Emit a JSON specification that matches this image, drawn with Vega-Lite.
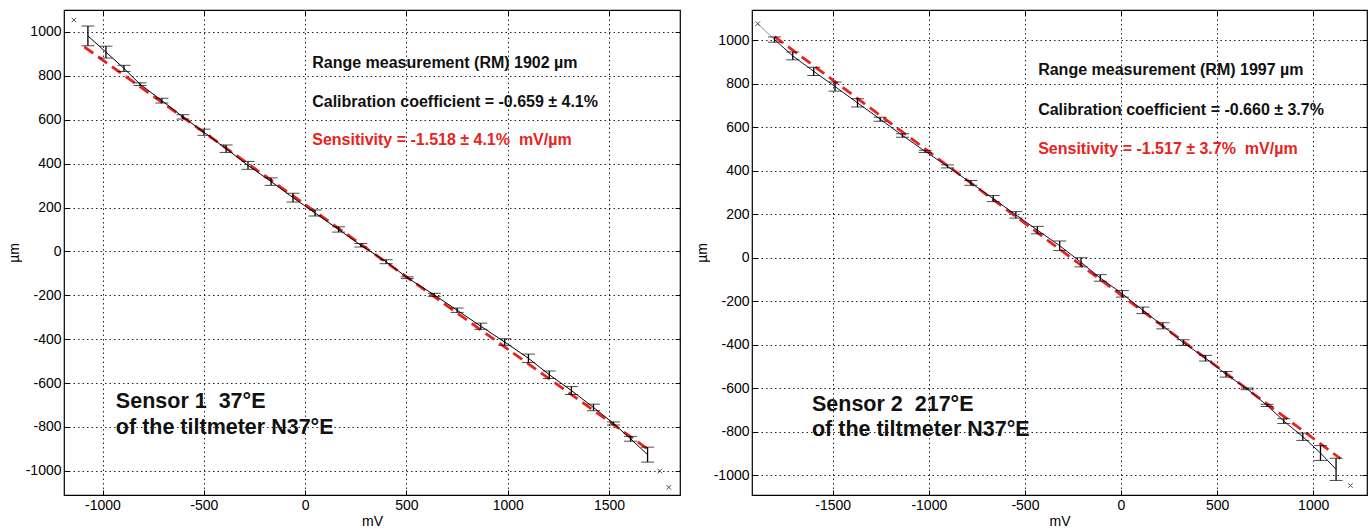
{
  "$schema": "https://vega.github.io/schema/vega-lite/v6.json",
  "background": "white",
  "padding": {"left": 6, "top": 8, "right": 0, "bottom": 0},
  "spacing": 12,
  "config": {
    "font": "Liberation Sans",
    "view": {"stroke": "#000", "strokeWidth": 1.2},
    "axis": {
      "labelFont": "Liberation Sans", "labelFontSize": 14, "labelColor": "#000",
      "titleFont": "Liberation Sans", "titleFontSize": 14, "titleFontWeight": "normal", "titleColor": "#000",
      "domain": false, "tickColor": "#000", "tickSize": -5, "labelPadding": 8, "grid": false,
      "labelExpr": "'' + datum.value"
    }
  },
  "datasets": {
    "s1": [
      {"mV": -1072, "um": 982, "err": 45}, {"mV": -983, "um": 908, "err": 27}, {"mV": -894, "um": 834, "err": 14},
      {"mV": -815, "um": 762, "err": 6}, {"mV": -707, "um": 687, "err": 11}, {"mV": -603, "um": 613, "err": 10},
      {"mV": -499, "um": 543, "err": 14}, {"mV": -390, "um": 468, "err": 17}, {"mV": -282, "um": 392, "err": 18},
      {"mV": -168, "um": 318, "err": 17}, {"mV": -60, "um": 245, "err": 20}, {"mV": 49, "um": 175, "err": 14},
      {"mV": 165, "um": 100, "err": 12}, {"mV": 275, "um": 28, "err": 8}, {"mV": 400, "um": -47, "err": 9},
      {"mV": 504, "um": -120, "err": 4}, {"mV": 637, "um": -198, "err": 7}, {"mV": 750, "um": -268, "err": 10},
      {"mV": 867, "um": -341, "err": 14}, {"mV": 985, "um": -413, "err": 15}, {"mV": 1102, "um": -487, "err": 19},
      {"mV": 1205, "um": -562, "err": 17}, {"mV": 1314, "um": -634, "err": 18}, {"mV": 1423, "um": -711, "err": 15},
      {"mV": 1522, "um": -784, "err": 7}, {"mV": 1606, "um": -854, "err": 11}, {"mV": 1690, "um": -926, "err": 34}
    ],
    "s1fit": [{"mV": -1090, "um": 932}, {"mV": 1690, "um": -900}],
    "s1x": [{"mV": -1141, "um": 1054}, {"mV": 1750, "um": -1001}, {"mV": 1795, "um": -1075}],
    "s1notes": [
      {"mV": 35, "um": 860, "label": "Range measurement (RM) 1902 µm"},
      {"mV": 35, "um": 680, "label": "Calibration coefficient = -0.659 ± 4.1%"}
    ],
    "s1sens": [{"mV": 35, "um": 506, "label": "Sensitivity = -1.518 ± 4.1%\u00a0 mV/µm"}],
    "s1label": [
      {"mV": -934, "um": -684, "label": "Sensor 1\u00a0 37°E"},
      {"mV": -934, "um": -803, "label": "of the tiltmeter N37°E"}
    ],
    "s2": [
      {"mV": -1803, "um": 1004, "err": 12}, {"mV": -1708, "um": 929, "err": 18}, {"mV": -1599, "um": 858, "err": 19},
      {"mV": -1488, "um": 788, "err": 21}, {"mV": -1371, "um": 713, "err": 19}, {"mV": -1253, "um": 638, "err": 9},
      {"mV": -1137, "um": 563, "err": 8}, {"mV": -1019, "um": 490, "err": 5}, {"mV": -903, "um": 421, "err": 7},
      {"mV": -781, "um": 345, "err": 11}, {"mV": -665, "um": 273, "err": 14}, {"mV": -547, "um": 198, "err": 15},
      {"mV": -435, "um": 128, "err": 17}, {"mV": -319, "um": 56, "err": 22}, {"mV": -208, "um": -20, "err": 21},
      {"mV": -108, "um": -92, "err": 15}, {"mV": 7, "um": -165, "err": 15}, {"mV": 114, "um": -241, "err": 15},
      {"mV": 218, "um": -312, "err": 14}, {"mV": 324, "um": -389, "err": 13}, {"mV": 440, "um": -461, "err": 13},
      {"mV": 547, "um": -535, "err": 13}, {"mV": 656, "um": -602, "err": 4}, {"mV": 760, "um": -678, "err": 5},
      {"mV": 847, "um": -750, "err": 11}, {"mV": 946, "um": -822, "err": 17}, {"mV": 1038, "um": -897, "err": 34},
      {"mV": 1119, "um": -972, "err": 51}
    ],
    "s2fit": [{"mV": -1803, "um": 1018}, {"mV": 1142, "um": -923}],
    "s2x": [{"mV": -1890, "um": 1077}, {"mV": 1194, "um": -1046}],
    "s2lead": [{"mV": -1890, "um": 1077}, {"mV": -1803, "um": 1004}],
    "s2notes": [
      {"mV": -431, "um": 862, "label": "Range measurement (RM) 1997 µm"},
      {"mV": -431, "um": 678, "label": "Calibration coefficient = -0.660 ± 3.7%"}
    ],
    "s2sens": [{"mV": -431, "um": 502, "label": "Sensitivity = -1.517 ± 3.7%\u00a0 mV/µm"}],
    "s2label": [
      {"mV": -1608, "um": -674, "label": "Sensor 2\u00a0 217°E"},
      {"mV": -1608, "um": -793, "label": "of the tiltmeter N37°E"}
    ]
  },
  "hconcat": [
    {
      "width": 616, "height": 485,
      "resolve": {"axis": {"x": "independent", "y": "independent"}},
      "layer": [
        {
          "data": {"name": "s1fit"},
          "mark": {"type": "line", "color": "#e8231b", "strokeWidth": 2.8, "strokeDash": [11, 6]},
          "encoding": {
            "x": {"field": "mV", "type": "quantitative", "axis": null},
            "y": {"field": "um", "type": "quantitative", "axis": null}
          }
        },
        {
          "data": {"name": "s1"},
          "mark": {"type": "line", "color": "#000", "strokeWidth": 1},
          "encoding": {
            "x": {"field": "mV", "type": "quantitative", "axis": {"orient": "top", "labels": false, "title": null, "values": [-1000, -500, 0, 500, 1000, 1500]}},
            "y": {"field": "um", "type": "quantitative", "axis": {"orient": "right", "labels": false, "title": null, "values": [-1000, -800, -600, -400, -200, 0, 200, 400, 600, 800, 1000]}}
          }
        },
        {
          "data": {"name": "s1"},
          "mark": {"type": "errorbar", "color": "#000", "ticks": {"size": 13, "color": "#000"}, "rule": {"strokeWidth": 1.3}},
          "encoding": {
            "x": {"field": "mV", "type": "quantitative", "scale": {"domain": [-1190, 1850], "nice": false, "zero": false},
                  "axis": {"title": "mV", "values": [-1000, -500, 0, 500, 1000, 1500], "grid": true, "gridDash": [1.5, 3], "gridColor": "#000", "gridOpacity": 0.85, "titlePadding": 2}},
            "y": {"field": "um", "type": "quantitative", "scale": {"domain": [-1110, 1100], "nice": false, "zero": false},
                  "axis": {"title": "µm", "values": [-1000, -800, -600, -400, -200, 0, 200, 400, 600, 800, 1000], "grid": true, "gridDash": [1.5, 3], "gridColor": "#000", "gridOpacity": 0.85, "titlePadding": 4}},
            "yError": {"field": "err"}
          }
        },
        {
          "data": {"name": "s1x"},
          "mark": {"type": "point", "shape": "M-1,-1L1,1M-1,1L1,-1", "size": 20, "filled": false, "color": "#000", "strokeWidth": 1},
          "encoding": {
            "x": {"field": "mV", "type": "quantitative", "axis": null},
            "y": {"field": "um", "type": "quantitative", "axis": null}
          }
        },
        {
          "data": {"name": "s1notes"},
          "mark": {"type": "text", "align": "left", "baseline": "middle", "fontSize": 16, "fontWeight": "bold", "color": "#111"},
          "encoding": {
            "x": {"field": "mV", "type": "quantitative", "axis": null},
            "y": {"field": "um", "type": "quantitative", "axis": null},
            "text": {"field": "label"}
          }
        },
        {
          "data": {"name": "s1sens"},
          "mark": {"type": "text", "align": "left", "baseline": "middle", "fontSize": 16, "fontWeight": "bold", "color": "#e8231b"},
          "encoding": {
            "x": {"field": "mV", "type": "quantitative", "axis": null},
            "y": {"field": "um", "type": "quantitative", "axis": null},
            "text": {"field": "label"}
          }
        },
        {
          "data": {"name": "s1label"},
          "mark": {"type": "text", "align": "left", "baseline": "middle", "fontSize": 21.5, "fontWeight": "bold", "color": "#111"},
          "encoding": {
            "x": {"field": "mV", "type": "quantitative", "axis": null},
            "y": {"field": "um", "type": "quantitative", "axis": null},
            "text": {"field": "label"}
          }
        }
      ]
    },
    {
      "width": 615, "height": 485,
      "resolve": {"axis": {"x": "independent", "y": "independent"}},
      "layer": [
        {
          "data": {"name": "s2lead"},
          "mark": {"type": "line", "color": "#777", "strokeWidth": 0.8},
          "encoding": {
            "x": {"field": "mV", "type": "quantitative", "axis": null},
            "y": {"field": "um", "type": "quantitative", "axis": null}
          }
        },
        {
          "data": {"name": "s2fit"},
          "mark": {"type": "line", "color": "#e8231b", "strokeWidth": 2.8, "strokeDash": [11, 6]},
          "encoding": {
            "x": {"field": "mV", "type": "quantitative", "axis": null},
            "y": {"field": "um", "type": "quantitative", "axis": null}
          }
        },
        {
          "data": {"name": "s2"},
          "mark": {"type": "line", "color": "#10103a", "strokeWidth": 1},
          "encoding": {
            "x": {"field": "mV", "type": "quantitative", "axis": {"orient": "top", "labels": false, "title": null, "values": [-1500, -1000, -500, 0, 500, 1000]}},
            "y": {"field": "um", "type": "quantitative", "axis": {"orient": "right", "labels": false, "title": null, "values": [-1000, -800, -600, -400, -200, 0, 200, 400, 600, 800, 1000]}}
          }
        },
        {
          "data": {"name": "s2"},
          "mark": {"type": "errorbar", "color": "#000", "ticks": {"size": 13, "color": "#000"}, "rule": {"strokeWidth": 1.3}},
          "encoding": {
            "x": {"field": "mV", "type": "quantitative", "scale": {"domain": [-1920, 1280], "nice": false, "zero": false},
                  "axis": {"title": "mV", "values": [-1500, -1000, -500, 0, 500, 1000], "grid": true, "gridDash": [1.5, 3], "gridColor": "#000", "gridOpacity": 0.85, "titlePadding": 2}},
            "y": {"field": "um", "type": "quantitative", "scale": {"domain": [-1090, 1140], "nice": false, "zero": false},
                  "axis": {"title": "µm", "values": [-1000, -800, -600, -400, -200, 0, 200, 400, 600, 800, 1000], "grid": true, "gridDash": [1.5, 3], "gridColor": "#000", "gridOpacity": 0.85, "titlePadding": 4}},
            "yError": {"field": "err"}
          }
        },
        {
          "data": {"name": "s2x"},
          "mark": {"type": "point", "shape": "M-1,-1L1,1M-1,1L1,-1", "size": 20, "filled": false, "color": "#000", "strokeWidth": 1},
          "encoding": {
            "x": {"field": "mV", "type": "quantitative", "axis": null},
            "y": {"field": "um", "type": "quantitative", "axis": null}
          }
        },
        {
          "data": {"name": "s2notes"},
          "mark": {"type": "text", "align": "left", "baseline": "middle", "fontSize": 16, "fontWeight": "bold", "color": "#111"},
          "encoding": {
            "x": {"field": "mV", "type": "quantitative", "axis": null},
            "y": {"field": "um", "type": "quantitative", "axis": null},
            "text": {"field": "label"}
          }
        },
        {
          "data": {"name": "s2sens"},
          "mark": {"type": "text", "align": "left", "baseline": "middle", "fontSize": 16, "fontWeight": "bold", "color": "#e8231b"},
          "encoding": {
            "x": {"field": "mV", "type": "quantitative", "axis": null},
            "y": {"field": "um", "type": "quantitative", "axis": null},
            "text": {"field": "label"}
          }
        },
        {
          "data": {"name": "s2label"},
          "mark": {"type": "text", "align": "left", "baseline": "middle", "fontSize": 21.5, "fontWeight": "bold", "color": "#111"},
          "encoding": {
            "x": {"field": "mV", "type": "quantitative", "axis": null},
            "y": {"field": "um", "type": "quantitative", "axis": null},
            "text": {"field": "label"}
          }
        }
      ]
    }
  ]
}
